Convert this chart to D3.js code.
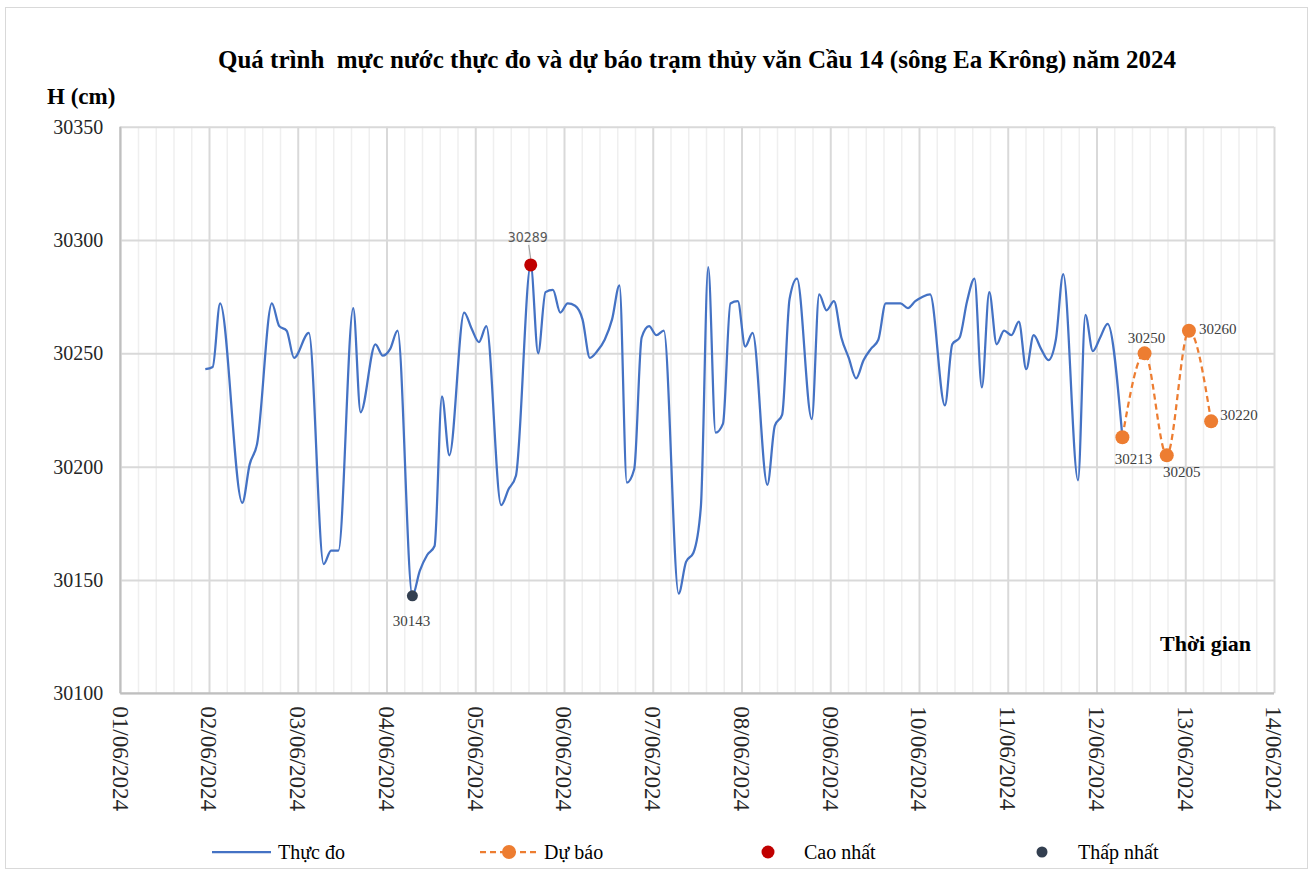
<!DOCTYPE html>
<html>
<head>
<meta charset="utf-8">
<script src="https://cdn.jsdelivr.net/npm/d3@7"></script>
<style>
  body { margin: 0; background: #fff; }
  svg { display: block; }
</style>
</head>
<body>
<div id="chart"></div>
<script>
var obsTime = [
  "2024-06-01 23:00", "2024-06-02 01:00", "2024-06-02 03:00", "2024-06-02 09:00", "2024-06-02 11:00",
  "2024-06-02 13:00", "2024-06-02 17:00", "2024-06-02 19:00", "2024-06-02 21:00", "2024-06-02 23:00",
  "2024-06-03 03:00", "2024-06-03 07:00", "2024-06-03 09:00", "2024-06-03 11:00", "2024-06-03 15:00",
  "2024-06-03 17:00", "2024-06-03 21:00", "2024-06-03 23:00", "2024-06-04 01:00", "2024-06-04 03:00",
  "2024-06-04 07:00", "2024-06-04 09:00", "2024-06-04 11:00", "2024-06-04 13:00", "2024-06-04 15:00",
  "2024-06-04 17:00", "2024-06-04 21:00", "2024-06-04 23:00", "2024-06-05 01:00", "2024-06-05 03:00",
  "2024-06-05 07:00", "2024-06-05 09:00", "2024-06-05 11:00", "2024-06-05 15:00", "2024-06-05 17:00",
  "2024-06-05 19:00", "2024-06-05 21:00", "2024-06-05 23:00", "2024-06-06 01:00", "2024-06-06 03:00",
  "2024-06-06 05:00", "2024-06-06 07:00", "2024-06-06 09:00", "2024-06-06 11:00", "2024-06-06 13:00",
  "2024-06-06 15:00", "2024-06-06 17:00", "2024-06-06 19:00", "2024-06-06 21:00", "2024-06-06 23:00",
  "2024-06-07 01:00", "2024-06-07 03:00", "2024-06-07 07:00", "2024-06-07 09:00", "2024-06-07 11:00",
  "2024-06-07 13:00", "2024-06-07 15:00", "2024-06-07 17:00", "2024-06-07 19:00", "2024-06-07 21:00",
  "2024-06-07 23:00", "2024-06-08 01:00", "2024-06-08 03:00", "2024-06-08 07:00", "2024-06-08 09:00",
  "2024-06-08 11:00", "2024-06-08 13:00", "2024-06-08 15:00", "2024-06-08 19:00", "2024-06-08 21:00",
  "2024-06-08 23:00", "2024-06-09 01:00", "2024-06-09 03:00", "2024-06-09 05:00", "2024-06-09 07:00",
  "2024-06-09 09:00", "2024-06-09 11:00", "2024-06-09 13:00", "2024-06-09 15:00", "2024-06-09 17:00",
  "2024-06-09 19:00", "2024-06-09 21:00", "2024-06-09 23:00", "2024-06-10 01:00", "2024-06-10 03:00",
  "2024-06-10 07:00", "2024-06-10 09:00", "2024-06-10 11:00", "2024-06-10 13:00", "2024-06-10 15:00",
  "2024-06-10 17:00", "2024-06-10 19:00", "2024-06-10 21:00", "2024-06-10 23:00", "2024-06-11 01:00",
  "2024-06-11 03:00", "2024-06-11 05:00", "2024-06-11 07:00", "2024-06-11 09:00", "2024-06-11 11:00",
  "2024-06-11 13:00", "2024-06-11 15:00", "2024-06-11 19:00", "2024-06-11 21:00", "2024-06-11 23:00",
  "2024-06-12 01:00", "2024-06-12 03:00", "2024-06-12 07:00"
];
var obsLevel = [
  30243, 30244, 30272, 30184, 30201,
  30210, 30272, 30262, 30260, 30248,
  30259, 30157, 30163, 30163, 30270,
  30224, 30254, 30249, 30252, 30260,
  30143, 30154, 30161, 30165, 30231,
  30205, 30268, 30261, 30255, 30262,
  30183, 30190, 30196, 30289, 30250,
  30277, 30278, 30268, 30272, 30271,
  30265, 30248, 30251, 30256, 30265,
  30280, 30193, 30199, 30257, 30262,
  30258, 30260, 30144, 30158, 30162,
  30182, 30288, 30215, 30219, 30272,
  30273, 30253, 30259, 30192, 30218,
  30223, 30274, 30283, 30221, 30276,
  30269, 30273, 30257, 30248, 30239,
  30247, 30252, 30256, 30272, 30272,
  30272, 30270, 30273, 30275, 30276,
  30227, 30254, 30257, 30273, 30283,
  30235, 30277, 30254, 30260, 30258,
  30264, 30243, 30258, 30252, 30247,
  30256, 30285, 30194, 30267, 30251,
  30257, 30263, 30213
];

// forecast (Dự báo)
var fcTime = ["2024-06-12 07:00", "2024-06-12 13:00", "2024-06-12 19:00", "2024-06-13 01:00", "2024-06-13 07:00"];
var fcLevel = [30213, 30250, 30205, 30260, 30220];

var dayTicks = ["2024-06-01", "2024-06-02", "2024-06-03", "2024-06-04", "2024-06-05", "2024-06-06", "2024-06-07",
                "2024-06-08", "2024-06-09", "2024-06-10", "2024-06-11", "2024-06-12", "2024-06-13", "2024-06-14"];
var yTicks = [30100, 30150, 30200, 30250, 30300, 30350];
var legendNames = ["Thực đo", "Dự báo", "Cao nhất", "Thấp nhất"];
var titleText = "Quá trình  mực nước thực đo và dự báo trạm thủy văn Cầu 14 (sông Ea Krông) năm 2024";

var W = 1316, H = 874;
var plotL = 120.25, plotR = 1274, plotT = 126.7, plotB = 693.3;
var serif = "'Times New Roman', 'Liberation Serif', serif";

var parseTime = d3.timeParse("%Y-%m-%d %H:%M"),
    parseDay = d3.timeParse("%Y-%m-%d");

var obs = obsTime.map(function(t, i) { return {time: parseTime(t), level: obsLevel[i]}; });
var fc = fcTime.map(function(t, i) { return {time: parseTime(t), level: fcLevel[i]}; });
var days = dayTicks.map(parseDay);

var svg = d3.select("#chart").append("svg")
    .attr("width", W)
    .attr("height", H)
    .style("font-family", serif);

svg.append("rect")
    .attr("x", 5.5).attr("y", 7.5)
    .attr("width", 1302).attr("height", 861)
    .attr("fill", "#fff")
    .attr("stroke", "#d9d9d9");

var x = d3.scaleTime().domain([days[0], days[days.length - 1]]).range([plotL, plotR]),
    y = d3.scaleLinear().domain([yTicks[0], yTicks[yTicks.length - 1]]).range([plotB, plotT]);

// minor vertical grid, every 1/5 day
var minor = d3.range(0, (days.length - 1) * 5 + 1)
    .filter(function(i) { return i % 5 !== 0; })
    .map(function(i) { return new Date(+days[0] + i * 864e5 / 5); });

svg.append("g")
    .attr("transform", "translate(0," + plotB + ")")
    .call(d3.axisBottom(x).tickValues(minor).tickSize(-(plotB - plotT)).tickFormat(""))
    .call(function(g) {
        g.select(".domain").remove();
        g.selectAll("line").attr("stroke", "#efefef").attr("stroke-width", 1.5);
    });

// major grid
svg.append("g")
    .attr("transform", "translate(0," + plotB + ")")
    .call(d3.axisBottom(x).tickValues(days).tickSize(-(plotB - plotT)).tickFormat(""))
    .call(function(g) {
        g.select(".domain").remove();
        g.selectAll("line").attr("stroke", "#d9d9d9").attr("stroke-width", 2);
    });

svg.append("g")
    .attr("transform", "translate(" + plotL + ",0)")
    .call(d3.axisLeft(y).tickValues(yTicks).tickSize(-(plotR - plotL)).tickPadding(17).tickFormat(d3.format("d")))
    .call(function(g) {
        g.select(".domain").remove();
        g.selectAll("line").attr("stroke", "#d9d9d9").attr("stroke-width", 2);
        g.selectAll("text")
            .style("font-family", serif)
            .style("font-size", "20px")
            .attr("fill", "#262626");
    });

// axis lines
svg.append("line")
    .attr("x1", plotL).attr("x2", plotL).attr("y1", plotT).attr("y2", plotB)
    .attr("stroke", "#bfbfbf").attr("stroke-width", 2);
svg.append("line")
    .attr("x1", plotL).attr("x2", plotR).attr("y1", plotB).attr("y2", plotB)
    .attr("stroke", "#bfbfbf").attr("stroke-width", 2);

// x tick labels, rotated
svg.append("g")
    .attr("transform", "translate(0," + plotB + ")")
    .call(d3.axisBottom(x).tickValues(days).tickSize(0).tickFormat(d3.timeFormat("%d/%m/%Y")))
    .call(function(g) {
        g.select(".domain").remove();
        g.selectAll("text")
            .style("font-family", serif)
            .style("font-size", "23px")
            .attr("fill", "#262626")
            .attr("transform", "rotate(90)")
            .attr("text-anchor", "start")
            .attr("x", 13)
            .attr("y", 0)
            .attr("dy", "0.35em");
    });

// observed line
var line = d3.line()
    .curve(d3.curveMonotoneX)
    .x(function(d) { return x(d.time); })
    .y(function(d) { return y(d.level); });

svg.append("path")
    .datum(obs)
    .attr("fill", "none")
    .attr("stroke", "#4472c4")
    .attr("stroke-width", 2.25)
    .attr("d", line);

// forecast
svg.append("path")
    .datum(fc)
    .attr("fill", "none")
    .attr("stroke", "#ed7d31")
    .attr("stroke-width", 2.25)
    .attr("stroke-dasharray", "6,4")
    .attr("d", line);

svg.selectAll(".fc-dot")
    .data(fc)
    .enter().append("circle")
    .attr("class", "fc-dot")
    .attr("cx", function(d) { return x(d.time); })
    .attr("cy", function(d) { return y(d.level); })
    .attr("r", 7)
    .attr("fill", "#ed7d31");

// label placement around each forecast point
var fcLabelPos = [
    {dx: 11, dy: 22, anchor: "middle"},
    {dx: 2, dy: -16, anchor: "middle"},
    {dx: 15, dy: 16, anchor: "middle"},
    {dx: 10, dy: -2, anchor: "start"},
    {dx: 9, dy: -7, anchor: "start"}
];

svg.selectAll(".fc-label")
    .data(fc)
    .enter().append("text")
    .attr("class", "fc-label")
    .attr("x", function(d, i) { return x(d.time) + fcLabelPos[i].dx; })
    .attr("y", function(d, i) { return y(d.level) + fcLabelPos[i].dy; })
    .attr("dy", "0.35em")
    .attr("text-anchor", function(d, i) { return fcLabelPos[i].anchor; })
    .attr("font-size", 15)
    .attr("fill", "#404040")
    .text(function(d) { return d.level; });

// highest / lowest observed
var hi = obs[d3.maxIndex(obs, function(d) { return d.level; })],
    lo = obs[d3.minIndex(obs, function(d) { return d.level; })];

svg.append("line")
    .attr("x1", x(hi.time) - 2).attr("y1", y(hi.level) - 20)
    .attr("x2", x(hi.time)).attr("y2", y(hi.level) - 6)
    .attr("stroke", "#a6a6a6").attr("stroke-width", 1.2);

svg.append("circle")
    .attr("cx", x(hi.time)).attr("cy", y(hi.level))
    .attr("r", 6.5).attr("fill", "#c00000");

svg.append("text")
    .attr("x", x(hi.time) - 3).attr("y", y(hi.level) - 28)
    .attr("dy", "0.35em")
    .attr("text-anchor", "middle")
    .attr("font-family", "'Liberation Sans Narrow', 'DejaVu Sans', sans-serif")
    .style("font-stretch", "condensed")
    .attr("font-size", 14)
    .attr("fill", "#595959")
    .text(hi.level);

svg.append("circle")
    .attr("cx", x(lo.time)).attr("cy", y(lo.level))
    .attr("r", 5.5).attr("fill", "#333f50");

svg.append("text")
    .attr("x", x(lo.time) - 1).attr("y", y(lo.level) + 25)
    .attr("dy", "0.35em")
    .attr("text-anchor", "middle")
    .attr("font-size", 15)
    .attr("fill", "#404040")
    .text(lo.level);

// titles
svg.append("text")
    .attr("x", 697).attr("y", 68)
    .attr("text-anchor", "middle")
    .attr("font-size", 25)
    .attr("font-weight", "bold")
    .style("white-space", "pre")
    .attr("fill", "#000")
    .text(titleText);

svg.append("text")
    .attr("x", 47).attr("y", 104)
    .attr("font-size", 23)
    .attr("font-weight", "bold")
    .text("H (cm)");

svg.append("text")
    .attr("x", 1160).attr("y", 651)
    .attr("font-size", 22)
    .attr("font-weight", "bold")
    .text("Thời gian");

// legend
var ly = 852;
var legend = svg.append("g").attr("font-size", 20).attr("fill", "#000");

legend.append("line")
    .attr("x1", 212).attr("x2", 271).attr("y1", ly).attr("y2", ly)
    .attr("stroke", "#4472c4").attr("stroke-width", 2.25);
legend.append("text").attr("x", 278).attr("y", ly).attr("dy", "0.35em").text(legendNames[0]);

legend.append("line")
    .attr("x1", 480).attr("x2", 539).attr("y1", ly).attr("y2", ly)
    .attr("stroke", "#ed7d31").attr("stroke-width", 2.25).attr("stroke-dasharray", "6,4");
legend.append("circle").attr("cx", 509).attr("cy", ly).attr("r", 7).attr("fill", "#ed7d31");
legend.append("text").attr("x", 544).attr("y", ly).attr("dy", "0.35em").text(legendNames[1]);

legend.append("circle").attr("cx", 768).attr("cy", ly).attr("r", 6.5).attr("fill", "#c00000");
legend.append("text").attr("x", 804).attr("y", ly).attr("dy", "0.35em").text(legendNames[2]);

legend.append("circle").attr("cx", 1042).attr("cy", ly).attr("r", 5.5).attr("fill", "#333f50");
legend.append("text").attr("x", 1078).attr("y", ly).attr("dy", "0.35em").text(legendNames[3]);
</script>
</body>
</html>
